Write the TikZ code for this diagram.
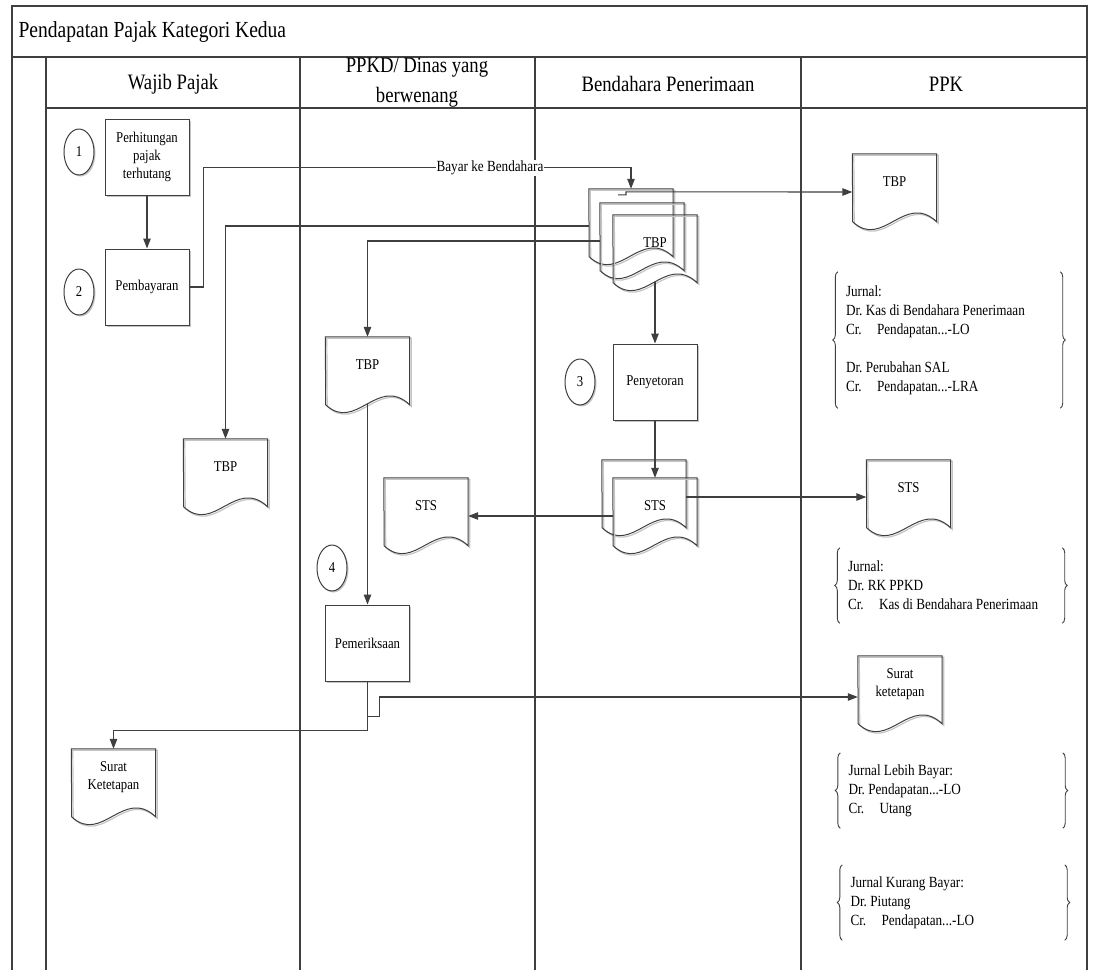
\documentclass[tikz,border=0pt]{standalone}
\usepackage{fontspec}
\setmainfont{Liberation Serif}[FakeStretch=0.85]
\usetikzlibrary{arrows.meta,shapes.geometric,shadows,decorations.pathreplacing}
\frenchspacing
\definecolor{linegray}{HTML}{3F3F3F}
\definecolor{shadegray}{HTML}{C4C4C4}
\newcommand{\crtab}{\makebox[31pt][l]{Cr.}}
\newcommand{\drawdoc}[1]{%
  \draw[shadegray,line width=1.2pt] ([shift={(1.5,1.5)}]#1.north west) -- ([shift={(1.5,1.5)}]#1.north east) -- ++(0,68)
    .. controls +(-32,-30) and +(30,28) .. ++(-84,0) -- cycle;
  \draw[linegray,line width=1pt] (#1.north west) -- (#1.north east) -- ++(0,68)
    .. controls +(-32,-30) and +(30,28) .. ++(-84,0) -- cycle;}
\begin{document}
\begin{tikzpicture}[x=1pt,y=-1pt,
        lane/.style={draw=linegray,line width=1.2pt},
        head/.style={align=center,inner sep=0pt,font=\fontsize{22}{30}\selectfont},
        process/.style={draw=linegray,line width=1pt,fill=white,minimum width=84pt,minimum height=76pt,
            inner sep=2pt,text width=80pt,align=center,font=\fontsize{15}{18}\selectfont,
            drop shadow={shadow xshift=1.5pt,shadow yshift=-1.5pt,fill=shadegray,opacity=1}},
        doc/.style={minimum width=84pt,minimum height=56pt,inner sep=0pt,align=center,
            font=\fontsize{15}{18}\selectfont},
        stepnum/.style={ellipse,draw=linegray,line width=1pt,fill=white,minimum width=30pt,minimum height=46pt,
            inner sep=0pt,font=\fontsize{15}{16}\selectfont,
            drop shadow={shadow xshift=1.5pt,shadow yshift=-1.5pt,fill=shadegray,opacity=1}},
        flow/.style={draw=linegray,line width=1.1pt,-{Triangle[length=10pt,width=7.5pt]}},
        jurnal/.style={text width=206pt,inner xsep=8pt,inner ysep=0pt,align=flush left,
            font=\fontsize{15.5}{19}\selectfont},
        curly/.style={draw=linegray,line width=0.9pt,decorate,decoration={brace,amplitude=5pt}}]
\useasboundingbox (0,0) rectangle (1094,970);

\draw[lane] (12,970) -- (12,6) -- (1087,6) -- (1087,970);
\draw[lane] (12,57) -- (1087,57);
\draw[lane] (46,57) -- (46,970);
\draw[lane] (46,108) -- (1087,108);
\foreach \xx in {300,535,801} \draw[lane] (\xx,57) -- (\xx,970);

\node[anchor=west,font=\fontsize{23}{26}\selectfont] (judul) at (15,32) {Pendapatan Pajak Kategori Kedua};
\node[head] (hwajib) at (173,84) {Wajib Pajak};
\node[head] (hppkd) at (417,83) {PPKD/ Dinas yang\\berwenang};
\node[head] (hbend) at (668,84) {Bendahara Penerimaan};
\node[head] (hppk) at (946,84) {PPK};

\node[stepnum] (n1) at (79,152) {1};
\node[process] (perh) at (147,157) {Perhitungan\\pajak\\terhutang};
\node[stepnum] (n2) at (79,292) {2};
\node[process] (pemb) at (147,287) {Pembayaran};
\node[doc] (wjtbp) at (225.5,467) {TBP};
\node[doc] (wjsk) at (113.5,777) {Surat\\Ketetapan};

\node[doc] (pdtbp) at (367.5,365) {TBP};
\node[doc] (pdsts) at (426,506) {STS};
\node[stepnum] (n4) at (332,568) {4};
\node[process] (pemer) at (367.5,643) {Pemeriksaan};

\node[doc] (tbpA) at (631,217) {};
\node[doc] (tbpB) at (642,231) {};
\node[doc] (tbpC) at (655,243) {TBP};
\node[stepnum] (n3) at (580,382) {3};
\node[process] (peny) at (655,382) {Penyetoran};
\node[doc] (stsA) at (644,488) {};
\node[doc] (stsB) at (655,506) {STS};

\node[doc] (ppktbp) at (894.5,182) {TBP};
\node[doc] (ppksts) at (908.5,488) {STS};
\node[doc] (ppksk) at (900,684) {Surat\\ketetapan};

\foreach \d in {wjtbp,wjsk,pdtbp,pdsts,tbpA,tbpB,tbpC,stsA,stsB,ppktbp,ppksts,ppksk}
    \drawdoc{\d};

\draw[flow] (perh) -- (pemb);
\draw[flow] (pemb.east) -- ++(14,0) |- ([yshift=21pt]tbpA.north) -- (tbpA.north);
\node[fill=white,inner sep=0.5pt,font=\fontsize{15.5}{16}\selectfont] (bayar) at (490,168) {Bayar ke Bendahara};
\draw[flow] ([xshift=-13pt,yshift=-6pt]tbpA.north) -- ++(8,0) -- ++(0,-3) -- ([yshift=-10pt]ppktbp.west);
\draw[flow] ([yshift=-9pt]tbpA.west) -| (wjtbp.north);
\draw[flow] ([yshift=-10pt]tbpB.west) -| (pdtbp.north);
\draw[flow] ([yshift=-11pt]tbpC.south) -- (peny.north);
\draw[flow] (peny.south) -- (stsB.north);
\draw[flow] ([yshift=-10pt]stsB.west) -- ([yshift=-10pt]pdsts.east);
\draw[flow] ([yshift=-9pt]stsA.east) -- ([yshift=-9pt]ppksts.west);
\draw[flow] ([yshift=-11pt]pdtbp.south) -- (pemer.north);
\draw[flow] (pemer.south) -- ++(0,49) -| (wjsk.north);
\draw[flow] ([yshift=-35pt]pemer.south) -- ++(12,0) |- ([yshift=-13pt]ppksk.west);

\node[jurnal,minimum height=136pt] (jurA) at (949,340) {Jurnal:\\Dr. Kas di Bendahara Penerimaan\\\crtab Pendapatan...-LO\\[19pt]Dr. Perubahan SAL\\\crtab Pendapatan...-LRA};
\node[jurnal,minimum height=75pt] (jurB) at (951,585.5) {Jurnal:\\Dr. RK PPKD\\\crtab Kas di Bendahara Penerimaan};
\node[jurnal,minimum height=75pt] (jurC) at (951.5,790.5) {Jurnal Lebih Bayar:\\Dr. Pendapatan...-LO\\\crtab Utang};
\node[jurnal,minimum height=75pt] (jurD) at (953.5,902.5) {Jurnal Kurang Bayar:\\Dr. Piutang\\\crtab Pendapatan...-LO};
\foreach \j in {jurA,jurB,jurC,jurD} {
    \draw[curly] (\j.south west) -- (\j.north west);
    \draw[curly] (\j.north east) -- (\j.south east);
}
\end{tikzpicture}
\end{document}
